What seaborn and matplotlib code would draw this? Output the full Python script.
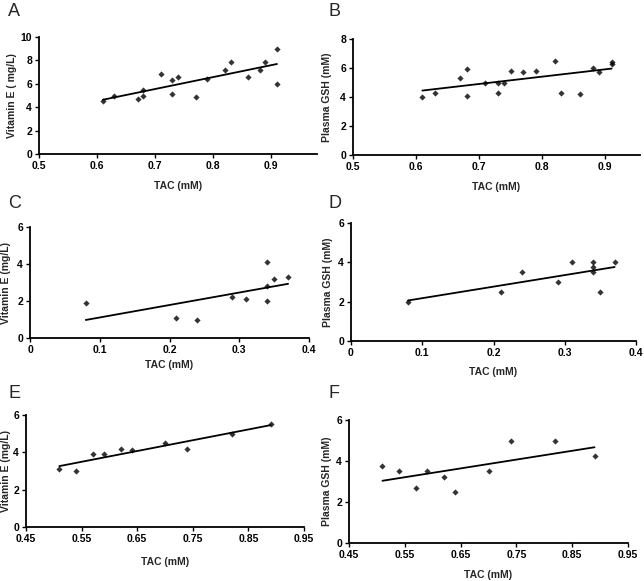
import matplotlib
matplotlib.use("Agg")
import matplotlib.pyplot as plt
import seaborn as sns
import numpy as np
import pandas as pd

sns.set_style("ticks")
plt.rcParams['font.family'] = ['Liberation Sans', 'DejaVu Sans']

# Panel A: TAC vs Vitamin E
a_tac = [0.61, 0.63, 0.67, 0.68, 0.68, 0.71, 0.73, 0.73, 0.74, 0.77, 0.79, 0.82, 0.83, 0.86, 0.88, 0.89, 0.91, 0.91]
a_val = [4.5, 5.0, 4.7, 5.0, 5.5, 6.8, 6.3, 5.1, 6.6, 4.9, 6.4, 7.2, 7.9, 6.6, 7.2, 7.9, 9.0, 6.0]
# Panel B: TAC vs Plasma GSH
b_tac = [0.61, 0.63, 0.67, 0.68, 0.68, 0.71, 0.73, 0.73, 0.74, 0.75, 0.77, 0.79, 0.82, 0.83, 0.86, 0.88, 0.89, 0.91, 0.91]
b_val = [4.0, 4.3, 5.3, 5.9, 4.1, 5.0, 5.0, 4.25, 5.0, 5.8, 5.7, 5.8, 6.5, 4.3, 4.2, 6.0, 5.75, 6.3, 6.4]
# Panel C
c_tac = [0.08, 0.21, 0.24, 0.29, 0.31, 0.34, 0.34, 0.34, 0.35, 0.37]
c_val = [1.9, 1.1, 1.0, 2.2, 2.1, 4.1, 2.8, 2.0, 3.2, 3.3]
# Panel D
d_tac = [0.08, 0.21, 0.24, 0.29, 0.31, 0.34, 0.34, 0.34, 0.35, 0.37]
d_val = [2.0, 2.5, 3.5, 3.0, 4.0, 4.0, 3.75, 3.5, 2.5, 4.0]
# Panel E
e_tac = [0.51, 0.54, 0.57, 0.59, 0.62, 0.64, 0.70, 0.74, 0.82, 0.89]
e_val = [3.1, 3.0, 3.9, 3.9, 4.2, 4.1, 4.5, 4.2, 5.0, 5.5]
# Panel F
f_tac = [0.51, 0.54, 0.57, 0.59, 0.62, 0.64, 0.70, 0.74, 0.82, 0.89]
f_val = [3.75, 3.5, 2.7, 3.5, 3.2, 2.5, 3.5, 5.0, 5.0, 4.25]

panel_letters = ["A", "B", "C", "D", "E", "F"]
ylabels = ["Vitamin E ( mg/L)", "Plasma GSH (mM)", "Vitamin E (mg/L)", "Plasma GSH (mM)",
           "Vitamin E (mg/L)", "Plasma GSH (mM)"]
xlabel = "TAC (mM)"
xticks_ab = [0.5, 0.6, 0.7, 0.8, 0.9]
xticks_cd = [0, 0.1, 0.2, 0.3, 0.4]
xticks_ef = [0.45, 0.55, 0.65, 0.75, 0.85, 0.95]
xtl_ab = ["0.5", "0.6", "0.7", "0.8", "0.9"]
xtl_cd = ["0", "0.1", "0.2", "0.3", "0.4"]
xtl_ef = ["0.45", "0.55", "0.65", "0.75", "0.85", "0.95"]

W, H = 644, 581
fig = plt.figure(figsize=(W / 100, H / 100), dpi=100)

# (left, right, top, bottom) pixel boxes
boxes = [(39, 317, 37, 154), (353, 640, 39, 155), (30, 309, 227, 338),
         (351, 636, 223, 341), (26, 304, 415, 527), (349, 628, 420, 543)]
xlims = [(0.5, 0.979), (0.5, 0.955), (0, 0.4), (0, 0.4), (0.45, 0.95), (0.45, 0.95)]
ylims = [(0, 10), (0, 8), (0, 6), (0, 6), (0, 6), (0, 6)]
yticks = [[0, 2, 4, 6, 8, 10], [0, 2, 4, 6, 8], [0, 2, 4, 6], [0, 2, 4, 6], [0, 2, 4, 6], [0, 2, 4, 6]]
xt = [(xticks_ab, xtl_ab), (xticks_ab, xtl_ab), (xticks_cd, xtl_cd), (xticks_cd, xtl_cd),
      (xticks_ef, xtl_ef), (xticks_ef, xtl_ef)]
data = [(a_tac, a_val), (b_tac, b_val), (c_tac, c_val), (d_tac, d_val), (e_tac, e_val), (f_tac, f_val)]
letter_pos = [(8, 12), (328, 12), (8, 203), (328, 203), (8, 393), (328, 393)]
xlabel_y = [186, 187, 365, 372, 562, 575]
ylabel_x = [12, 327, 6, 328, 6, 327]

for i in range(6):
    l, r, t, b = boxes[i]
    ax = fig.add_axes([l / W, 1 - b / H, (r - l) / W, (b - t) / H])
    df = pd.DataFrame({"x": data[i][0], "y": data[i][1]})
    sns.regplot(data=df, x="x", y="y", ax=ax, ci=None, truncate=True, color="black",
                marker="D", scatter_kws={"s": 10, "linewidths": 0},
                line_kws={"lw": 1.3})
    ax.set_xlim(*xlims[i])
    ax.set_ylim(*ylims[i])
    ax.set_xticks(xt[i][0])
    ax.set_xticklabels(xt[i][1])
    ax.set_yticks(yticks[i])
    ax.set_xlabel("")
    ax.set_ylabel("")
    for s in ["top", "right"]:
        ax.spines[s].set_visible(False)
    for s in ["left", "bottom"]:
        ax.spines[s].set_linewidth(1.3)
        ax.spines[s].set_color("black")
    ax.tick_params(axis="both", labelsize=7.5, length=3, width=1.0, pad=2, colors="black")
    for lab in ax.get_xticklabels() + ax.get_yticklabels():
        lab.set_fontweight("bold")
    ax.set_facecolor("white")
    # labels
    fig.text(((l + r) / 2) / W, 1 - xlabel_y[i] / H, xlabel, ha="center", va="center",
             fontsize=7.5, fontweight="bold")
    fig.text(ylabel_x[i] / W, 1 - ((t + b) / 2) / H, ylabels[i], ha="center", va="center",
             rotation=90, fontsize=7.5, fontweight="bold")
    fig.text(letter_pos[i][0] / W, 1 - letter_pos[i][1] / H, panel_letters[i], ha="left",
             va="center", fontsize=13)

fig.savefig("out.png", dpi=100, facecolor="white")
